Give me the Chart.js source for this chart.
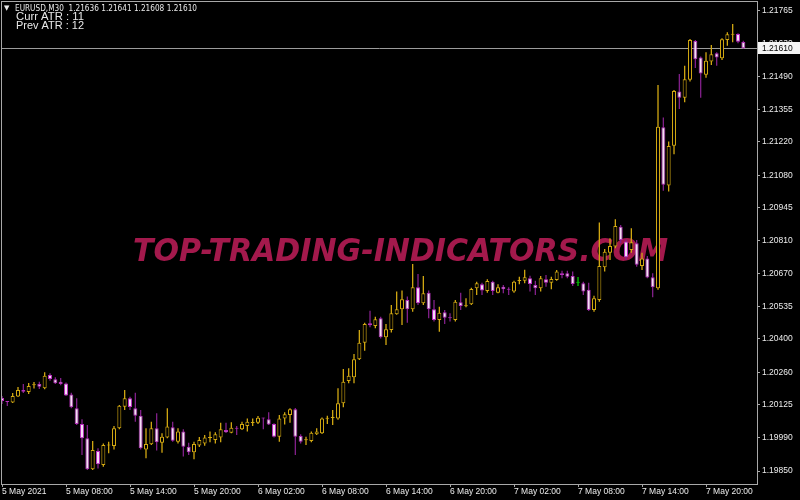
<!DOCTYPE html>
<html>
<head>
<meta charset="utf-8">
<title>EURUSD,M30</title>
<script src="https://cdn.jsdelivr.net/npm/chart.js@4"></script>
<style>
html, body { margin: 0; padding: 0; background: #000; }
canvas { display: block; }
</style>
</head>
<body>
<canvas id="eurusd_canvas" width="800" height="500"></canvas>
<script>
// M30 candles, 5 May 2021 02:00 .. 7 May 2021 23:30
var opens = [
    1.20154, 1.20139, 1.20135, 1.20160, 1.20187, 1.20179, 1.20207, 1.20212, 1.20194, 1.20250,
    1.20232, 1.20222, 1.20214, 1.20169, 1.20111, 1.20046, 1.19986, 1.19857, 1.19933, 1.19875,
    1.19956, 1.19954, 1.20028, 1.20118, 1.20153, 1.20111, 1.20080, 1.19940, 1.19961, 1.20028,
    1.19968, 1.19990, 1.20032, 1.19972, 1.20014, 1.19951, 1.19928, 1.19956, 1.19965, 1.19987,
    1.19979, 1.19990, 1.20021, 1.20009, 1.20028, 1.20024, 1.20037, 1.20050, 1.20051, 1.20071,
    1.20065, 1.20046, 1.19993, 1.20069, 1.20083, 1.20107, 1.19996, 1.19978, 1.19975, 1.20003,
    1.20007, 1.20068, 1.20071, 1.20069, 1.20132, 1.20225, 1.20240, 1.20315, 1.20384, 1.20465,
    1.20454, 1.20486, 1.20407, 1.20437, 1.20502, 1.20523, 1.20562, 1.20523, 1.20615, 1.20548,
    1.20592, 1.20523, 1.20479, 1.20511, 1.20487, 1.20479, 1.20552, 1.20536, 1.20544, 1.20611,
    1.20627, 1.20599, 1.20638, 1.20592, 1.20617, 1.20605, 1.20597, 1.20641, 1.20642, 1.20652,
    1.20624, 1.20611, 1.20648, 1.20634, 1.20645, 1.20673, 1.20673, 1.20662, 1.20634, 1.20631,
    1.20604, 1.20520, 1.20562, 1.20698, 1.20758, 1.20784, 1.20867, 1.20805, 1.20770, 1.20798,
    1.20703, 1.20735, 1.20656, 1.20611, 1.21281, 1.21038, 1.21204, 1.21429, 1.21404, 1.21478,
    1.21640, 1.21571, 1.21499, 1.21554, 1.21589, 1.21568, 1.21644, 1.21666, 1.21669, 1.21636
];
var highs = [
    1.20162, 1.20141, 1.20175, 1.20200, 1.20212, 1.20216, 1.20221, 1.20222, 1.20261, 1.20257,
    1.20240, 1.20237, 1.20218, 1.20176, 1.20153, 1.20065, 1.20042, 1.19975, 1.19945, 1.19965,
    1.19972, 1.20037, 1.20125, 1.20187, 1.20159, 1.20176, 1.20104, 1.20028, 1.20055, 1.20090,
    1.20007, 1.20111, 1.20055, 1.20028, 1.20024, 1.19968, 1.19972, 1.19992, 1.20000, 1.20014,
    1.20011, 1.20051, 1.20051, 1.20053, 1.20037, 1.20055, 1.20069, 1.20069, 1.20079, 1.20072,
    1.20095, 1.20049, 1.20083, 1.20095, 1.20111, 1.20112, 1.20003, 1.19993, 1.20014, 1.20028,
    1.20073, 1.20080, 1.20104, 1.20194, 1.20275, 1.20278, 1.20337, 1.20437, 1.20467, 1.20517,
    1.20492, 1.20492, 1.20462, 1.20541, 1.20597, 1.20601, 1.20576, 1.20712, 1.20670, 1.20662,
    1.20601, 1.20562, 1.20534, 1.20520, 1.20507, 1.20562, 1.20592, 1.20569, 1.20613, 1.20638,
    1.20634, 1.20648, 1.20642, 1.20627, 1.20624, 1.20615, 1.20642, 1.20659, 1.20688, 1.20663,
    1.20642, 1.20662, 1.20666, 1.20659, 1.20687, 1.20684, 1.20684, 1.20680, 1.20657, 1.20638,
    1.20634, 1.20579, 1.20884, 1.20774, 1.20819, 1.20898, 1.20874, 1.20815, 1.20860, 1.20812,
    1.20758, 1.20745, 1.20673, 1.21457, 1.21321, 1.21221, 1.21436, 1.21502, 1.21537, 1.21648,
    1.21644, 1.21575, 1.21593, 1.21623, 1.21593, 1.21651, 1.21676, 1.21710, 1.21672, 1.21641
];
var lows = [
    1.20129, 1.20121, 1.20133, 1.20158, 1.20175, 1.20171, 1.20193, 1.20191, 1.20190, 1.20226,
    1.20212, 1.20207, 1.20162, 1.20111, 1.20042, 1.19917, 1.19854, 1.19854, 1.19861, 1.19868,
    1.19924, 1.19940, 1.20024, 1.20104, 1.20104, 1.20055, 1.19940, 1.19903, 1.19958, 1.19935,
    1.19926, 1.19986, 1.19972, 1.19965, 1.19910, 1.19917, 1.19899, 1.19950, 1.19955, 1.19970,
    1.19965, 1.19970, 1.20008, 1.20007, 1.20000, 1.20021, 1.20014, 1.20037, 1.20046, 1.20024,
    1.20042, 1.19990, 1.19972, 1.20044, 1.20051, 1.19917, 1.19965, 1.19958, 1.19970, 1.20000,
    1.20004, 1.20046, 1.20042, 1.20063, 1.20115, 1.20215, 1.20215, 1.20312, 1.20351, 1.20448,
    1.20444, 1.20402, 1.20375, 1.20426, 1.20500, 1.20458, 1.20467, 1.20513, 1.20541, 1.20541,
    1.20486, 1.20472, 1.20430, 1.20462, 1.20472, 1.20472, 1.20520, 1.20532, 1.20541, 1.20583,
    1.20583, 1.20592, 1.20583, 1.20590, 1.20590, 1.20583, 1.20592, 1.20627, 1.20631, 1.20597,
    1.20583, 1.20597, 1.20617, 1.20606, 1.20642, 1.20652, 1.20652, 1.20620, 1.20620, 1.20583,
    1.20516, 1.20513, 1.20555, 1.20680, 1.20728, 1.20777, 1.20798, 1.20728, 1.20758, 1.20700,
    1.20687, 1.20652, 1.20573, 1.20604, 1.21016, 1.21013, 1.21168, 1.21357, 1.21385, 1.21471,
    1.21527, 1.21404, 1.21487, 1.21540, 1.21537, 1.21561, 1.21620, 1.21635, 1.21630, 1.21608
];
var closes = [
    1.20141, 1.20137, 1.20162, 1.20187, 1.20180, 1.20204, 1.20208, 1.20201, 1.20247, 1.20233,
    1.20215, 1.20212, 1.20164, 1.20115, 1.20046, 1.19986, 1.19857, 1.19937, 1.19878, 1.19958,
    1.19958, 1.20028, 1.20122, 1.20153, 1.20116, 1.20080, 1.19945, 1.19962, 1.20028, 1.19970,
    1.19993, 1.20035, 1.19976, 1.20014, 1.19951, 1.19928, 1.19962, 1.19979, 1.19990, 1.19989,
    1.20003, 1.20024, 1.20011, 1.20030, 1.20026, 1.20046, 1.20055, 1.20051, 1.20072, 1.20069,
    1.20044, 1.19993, 1.20069, 1.20086, 1.20107, 1.19993, 1.19972, 1.19979, 1.20009, 1.20014,
    1.20069, 1.20069, 1.20072, 1.20132, 1.20222, 1.20246, 1.20315, 1.20384, 1.20462, 1.20457,
    1.20482, 1.20407, 1.20440, 1.20507, 1.20523, 1.20565, 1.20523, 1.20615, 1.20548, 1.20590,
    1.20523, 1.20479, 1.20509, 1.20488, 1.20486, 1.20555, 1.20537, 1.20537, 1.20608, 1.20631,
    1.20601, 1.20641, 1.20599, 1.20615, 1.20606, 1.20604, 1.20638, 1.20642, 1.20656, 1.20628,
    1.20611, 1.20652, 1.20634, 1.20649, 1.20680, 1.20666, 1.20659, 1.20628, 1.20634, 1.20597,
    1.20520, 1.20569, 1.20703, 1.20763, 1.20787, 1.20870, 1.20812, 1.20740, 1.20802, 1.20708,
    1.20735, 1.20655, 1.20615, 1.21283, 1.21041, 1.21203, 1.21432, 1.21404, 1.21481, 1.21644,
    1.21564, 1.21504, 1.21558, 1.21585, 1.21571, 1.21647, 1.21668, 1.21670, 1.21637, 1.21610
];

var tick_bars = [0, 12, 24, 36, 48, 60, 72, 84, 96, 108, 120, 132];
var tick_labels = [
    '5 May 2021', '5 May 08:00', '5 May 14:00', '5 May 20:00',
    '6 May 02:00', '6 May 08:00', '6 May 14:00', '6 May 20:00',
    '7 May 02:00', '7 May 08:00', '7 May 14:00', '7 May 20:00'
];
var price_ticks = [
    1.21765, 1.21630, 1.21490, 1.21355, 1.21220, 1.21080, 1.20945, 1.20810,
    1.20670, 1.20535, 1.20400, 1.20260, 1.20125, 1.19990, 1.19850
];
var last_price = 1.21610;
var header_text = 'EURUSD,M30  1.21636 1.21641 1.21608 1.21610';
var atr_lines = ['Curr ATR : 11', 'Prev ATR : 12'];
var watermark_text = 'TOP-TRADING-INDICATORS.COM';

function candle_kind(i) {
    if (closes[i] > opens[i]) return 'up';
    if (closes[i] < opens[i]) return 'down';
    return 'flat';
}
var body_fill = { up: '#000000', down: '#f6dcf6', flat: '#00c800' };
var body_line = { up: '#d2a812', down: '#b72fbc', flat: '#00c800' };
var wick_color = { up: '#d2a812', down: '#82208a', flat: '#00c800' };

var bodies = [];
var wicks = [];
for (var i = 0; i < opens.length; i++) {
    bodies.push({ x: i, y: [Math.min(opens[i], closes[i]), Math.max(opens[i], closes[i])] });
    wicks.push({ x: i, y: [lows[i], highs[i]] });
}

// draws text squeezed / stretched to a given width
function fit_text(ctx, text, x, y, font, width) {
    ctx.save();
    ctx.font = font;
    var w = ctx.measureText(text).width;
    ctx.translate(x, y);
    ctx.scale(width / w, 1);
    ctx.fillText(text, 0, 0);
    ctx.restore();
}

var mt4_plugin = {
    id: 'mt4',
    beforeDraw: function (chart) {
        var ctx = chart.ctx;
        ctx.save();
        ctx.fillStyle = '#000000';
        ctx.fillRect(0, 0, chart.width, chart.height);
        ctx.restore();
    },
    beforeDatasetsDraw: function (chart) {
        var ctx = chart.ctx;
        var area = chart.chartArea;
        ctx.save();
        // watermark sits under the candles
        ctx.fillStyle = '#a3194c';
        ctx.textBaseline = 'alphabetic';
        fit_text(ctx, watermark_text, 133, 260.5, 'bold italic 32px "DejaVu Sans"', 535);

        var y = Math.round(chart.scales.y.getPixelForValue(last_price)) + 0.5;
        ctx.strokeStyle = '#9c9c9c';
        ctx.lineWidth = 1;
        ctx.beginPath();
        ctx.moveTo(area.left, y);
        ctx.lineTo(area.right, y);
        ctx.stroke();
        ctx.restore();
    },
    afterDraw: function (chart) {
        var ctx = chart.ctx;
        var area = chart.chartArea;
        ctx.save();
        // window frame
        ctx.strokeStyle = '#a8a8a8';
        ctx.lineWidth = 1;
        ctx.strokeRect(area.left - 0.5, area.top - 0.5, area.right - area.left + 1, area.bottom - area.top + 1);

        // last price label
        var y = Math.round(chart.scales.y.getPixelForValue(last_price));
        ctx.fillStyle = '#f4f4f4';
        ctx.fillRect(area.right + 1, y - 6, 800 - area.right - 1, 12);
        ctx.fillStyle = '#000000';
        ctx.textBaseline = 'middle';
        ctx.font = '8.5px "Liberation Sans"';
        ctx.fillText(last_price.toFixed(5), area.right + 5, y + 0.5);

        // header and indicator text
        ctx.fillStyle = '#e8e8e8';
        ctx.textBaseline = 'alphabetic';
        ctx.font = '7px "DejaVu Sans"';
        ctx.fillText('\u25BC', 4, 10);
        fit_text(ctx, header_text, 15, 11, '9.5px "DejaVu Sans"', 182);
        fit_text(ctx, atr_lines[0], 16, 20, '11px "Liberation Sans"', 68);
        fit_text(ctx, atr_lines[1], 16, 29, '11px "Liberation Sans"', 68);
        ctx.restore();
    }
};

var ctx = document.getElementById('eurusd_canvas');
new Chart(ctx, {
    type: 'bar',
    data: {
        datasets: [{
            label: 'body',
            data: bodies,
            grouped: false,
            barThickness: 4,
            borderWidth: 1,
            borderSkipped: false,
            inflateAmount: 0,
            minBarLength: 1,
            backgroundColor: function (c) { return body_fill[candle_kind(c.dataIndex)]; },
            borderColor: function (c) { return body_line[candle_kind(c.dataIndex)]; }
        }, {
            label: 'wick',
            data: wicks,
            grouped: false,
            barThickness: 1.3,
            borderWidth: 0,
            inflateAmount: 0,
            backgroundColor: function (c) { return wick_color[candle_kind(c.dataIndex)]; }
        }]
    },
    options: {
        responsive: false,
        animation: false,
        events: [],
        layout: { padding: { left: 2, top: 2, right: 0, bottom: 0 } },
        plugins: {
            legend: { display: false },
            tooltip: { enabled: false },
            title: { display: false }
        },
        scales: {
            x: {
                type: 'linear',
                offset: false,
                min: 0,
                max: 141.56,
                afterBuildTicks: function (scale) {
                    scale.ticks = tick_bars.map(function (b) { return { value: b }; });
                },
                afterFit: function (scale) {
                    scale.height = 16;
                    scale.paddingLeft = 0;
                    scale.paddingRight = 0;
                },
                border: { display: false },
                grid: {
                    offset: false,
                    drawOnChartArea: false,
                    drawTicks: true,
                    tickLength: 3,
                    color: '#a8a8a8'
                },
                ticks: {
                    autoSkip: false,
                    maxRotation: 0,
                    align: 'start',
                    padding: 0,
                    color: '#ececec',
                    font: { family: 'Liberation Sans', size: 8.5 },
                    callback: function (value, index) { return tick_labels[index]; }
                }
            },
            y: {
                position: 'right',
                min: 1.19796,
                max: 1.21802,
                beginAtZero: false,
                afterBuildTicks: function (scale) {
                    scale.ticks = price_ticks.map(function (p) { return { value: p }; });
                },
                afterFit: function (scale) {
                    scale.width = 43;
                    scale.paddingTop = 0;
                    scale.paddingBottom = 0;
                },
                border: { display: false },
                grid: {
                    drawOnChartArea: false,
                    drawTicks: true,
                    tickLength: 3,
                    color: '#a8a8a8'
                },
                ticks: {
                    padding: 2,
                    color: '#ececec',
                    font: { family: 'Liberation Sans', size: 8.5 },
                    callback: function (value) { return Number(value).toFixed(5); }
                }
            }
        }
    },
    plugins: [mt4_plugin]
});
</script>
</body>
</html>
